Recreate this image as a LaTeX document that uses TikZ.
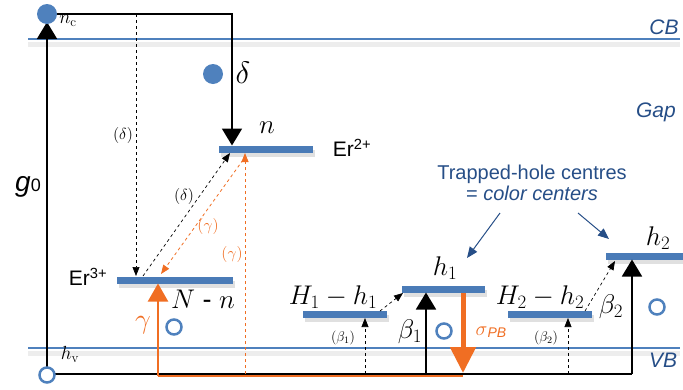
\RequirePackage{fix-cm}
\documentclass[tikz,border=0pt]{standalone}
\usepackage[no-math]{fontspec}
\setmainfont{Liberation Sans}
\usetikzlibrary{arrows.meta}
\definecolor{band}{RGB}{79,129,189}
\definecolor{barc}{RGB}{74,123,183}
\definecolor{lbl}{RGB}{38,78,135}
\definecolor{orng}{RGB}{240,110,35}
\begin{document}
\begin{tikzpicture}[x=1pt,y=-1pt,
  bandline/.style={draw=band,line width=1.4pt},
  bandsh/.style={draw=black!7,line width=5pt},
  lvl/.style={draw=barc,line width=7pt},
  lvlsh/.style={draw=black!12,line width=7pt},
  bigarr/.style={line width=1.8pt,-{Triangle[width=20pt,length=17pt]}},
  orarr/.style={draw=orng,line width=2.2pt,-{Triangle[width=20pt,length=18pt]}},
  smarr/.style={dashed,line width=0.7pt,-{Triangle[width=7pt,length=9pt]}},
  smorarr/.style={dashed,draw=orng,line width=0.8pt,-{Triangle[width=7pt,length=9pt]}},
  hole/.style={draw=band,line width=2.5pt,circle,minimum size=15pt,inner sep=0pt},
  elec/.style={fill=band,circle,minimum size=20pt,inner sep=0pt},
  bandlbl/.style={text=lbl,font=\fontsize{21}{24}\selectfont\itshape},
  mlbl/.style={font=\fontsize{27}{30}\selectfont},
  slbl/.style={font=\fontsize{16}{18}\selectfont},
  tlbl/.style={font=\fontsize{14}{16}\selectfont},
  erlbl/.style={font=\fontsize{21}{24}\selectfont},
  bluearr/.style={draw=lbl,line width=1pt,-{Triangle[width=9pt,length=11pt]}},
]
\useasboundingbox (0,0) rectangle (683,389);

% bands
\draw[bandsh] (28,44) -- (680,44);
\draw[bandsh] (28,353) -- (680,353);
\draw[bandline] (28,39) -- (680,39);
\draw[bandline] (28,348) -- (680,348);
\node[bandlbl] (cb) at (664,27) {CB};
\node[bandlbl] (gap) at (656,112) {Gap};
\node[bandlbl] (vb) at (663,360) {VB};

% level coordinates
\coordinate (nL) at (219,149); \coordinate (nR) at (313,149);
\coordinate (eL) at (117,280); \coordinate (eR) at (233,280);
\coordinate (aL) at (303,314); \coordinate (aR) at (387,314);
\coordinate (hL) at (402,289); \coordinate (hR) at (485,289);
\coordinate (bL) at (508,314); \coordinate (bR) at (592,314);
\coordinate (kL) at (606,256); \coordinate (kR) at (683,256);

% level shadows and bars
\foreach \a/\b in {nL/nR,eL/eR,aL/aR,hL/hR,bL/bR,kL/kR}{
  \draw[lvlsh] ([shift={(2,4)}]\a) -- ([shift={(2,4)}]\b);
}
\foreach \a/\b in {nL/nR,eL/eR,aL/aR,hL/hR,bL/bR,kL/kR}{
  \draw[lvl] (\a) -- (\b);
}

% bottom path
\coordinate (hv) at (47,374);
\coordinate (corner1) at (632,374);
\coordinate (oStart) at (158,376);
\coordinate (oEnd) at (463,376);
\draw[line width=1.8pt] (hv) -- (corner1);
\draw[draw=orng,line width=2.2pt] (oStart) -- (oEnd);

% g0 arrow and top path
\coordinate (top) at (47,14);
\coordinate (topR) at (232,14);
\draw[bigarr] (hv) -- (47,22);
\draw[bigarr] (top) -- (topR) -- (232,145.5);
\node[elec] (nc) at (47,14) {};
\node[hole,fill=white] (hvc) at (47,375) {};
\node[font=\fontsize{19}{22}\selectfont] (nclbl) at (68,21) {$n_{\mathrm c}$};
\node[font=\fontsize{19}{22}\selectfont] (hvlbl) at (70,354) {$h_{\mathrm v}$};
\node[font=\fontsize{28}{30}\selectfont\itshape,inner sep=0pt] (g0) at (28,187) {g\upshape\fontsize{18}{22}\selectfont 0};

% delta dashed vertical
\coordinate (dtop) at (136,14);
\draw[smarr] (dtop) -- (136,276);
\node[slbl] (dl1) at (123,135) {$(\delta)$};

% electron and delta
\node[elec] (el) at (213,74) {};
\node[font=\fontsize{31}{33}\selectfont] (dlbl) at (243,73) {$\delta$};

% labels of levels
\node[mlbl] (nlbl) at (267,128) {$n$};
\node[erlbl] (er2) at (352,148) {Er\textsuperscript{2+}};
\node[erlbl] (er3) at (88,277) {Er\textsuperscript{3+}};
\node[mlbl] (Nn) at (203,299) {$N$ - $n$};

% diagonal dashed arrows between Er levels
\draw[smarr] (143,276) -- (230,153);
\node[slbl] (dl2) at (184,196) {$(\delta)$};
\draw[smorarr] (243,160) -- (161,274);
\node[slbl,text=orng] (gl1) at (208,226) {$(\gamma)$};
\draw[smorarr] (245,374) -- (245,153);
\node[slbl,text=orng] (gl2) at (232,254) {$(\gamma)$};

% gamma solid arrow
\draw[orarr] (oStart) -- (158,283.5);
\node[font=\fontsize{28}{30}\selectfont,text=orng] (gam) at (143,325) {$\gamma$};
\node[hole] (ho1) at (174,327) {};

% H1 - h1
\node[mlbl] (H1) at (333,297) {$H_1-h_1$};
\draw[smarr] (365,374) -- (365,318);
\node[tlbl] (b1s) at (343,338) {$(\beta_1)$};
\draw[smarr] (380,311) -- (403,293);

% h1
\node[mlbl] (h1) at (445,268) {$h_1$};
\draw[bigarr] (426,374) -- (426,292.5);
\node[mlbl] (b1) at (410,332) {$\beta_1$};
\node[hole] (ho2) at (444,331) {};
\draw[draw=orng,line width=5pt,-{Triangle[width=25pt,length=26pt]}] (463,293) -- (463,373);
\node[font=\fontsize{20}{22}\selectfont\itshape,text=orng] (spb) at (491,332) {$\sigma$\fontsize{14}{16}\selectfont\raisebox{-2pt}{PB}};

% H2 - h2
\node[mlbl] (H2) at (540,297) {$H_2-h_2$};
\draw[smarr] (568,374) -- (568,318);
\node[tlbl] (b2s) at (546,338) {$(\beta_2)$};
\draw[smarr] (585,311) -- (615,261);

% h2
\node[mlbl] (h2) at (658,238) {$h_2$};
\draw[bigarr] (corner1) -- (632,259.5);
\node[mlbl] (b2) at (611,307) {$\beta_2$};
\node[hole] (ho3) at (657,307) {};

% trapped-hole annotation
\node[text=lbl,font=\fontsize{20}{23}\selectfont,align=center] (trap) at (532,183)
  {Trapped-hole centres\\[-2pt] = \itshape color centers};
\draw[bluearr] (500,213) -- (467,258);
\draw[bluearr] (578,213) -- (609,239);
\end{tikzpicture}
\end{document}
